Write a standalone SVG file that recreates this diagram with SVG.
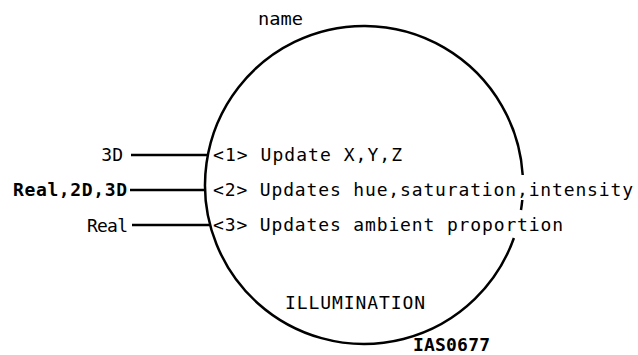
<svg xmlns="http://www.w3.org/2000/svg" width="638" height="355" viewBox="0 0 638 355">
<style>
.t{font-family:"DejaVu Sans Mono","Liberation Mono",monospace;font-size:18px;fill:#000}
.b{font-weight:bold}
.ln{stroke:#000;stroke-width:2.5;fill:none}
</style>
<rect width="638" height="355" fill="#fff"/>
<g id="illumination">
<path class="ln" d="M 522.7 175 A 159 159 0 1 0 513.9 238"/>
<path class="ln" d="M 522.3 200 A 159 159 0 0 1 521 210"/>
<text class="t" x="258" y="25" textLength="45" lengthAdjust="spacingAndGlyphs">name</text>
<text class="t" x="213" y="161" textLength="189" lengthAdjust="spacing">&lt;1&gt; Update X,Y,Z</text>
<text class="t" x="213" y="196" textLength="420" lengthAdjust="spacing">&lt;2&gt; Updates hue,saturation,intensity</text>
<text class="t" x="213" y="231" textLength="350" lengthAdjust="spacing">&lt;3&gt; Updates ambient proportion</text>
<text class="t" x="285" y="309" textLength="140" lengthAdjust="spacing">ILLUMINATION</text>
<text class="t b" x="413" y="351" font-size="12" textLength="77" lengthAdjust="spacing">IAS0677</text>
</g>
<g id="in-3d">
<text class="t" x="123" y="161" text-anchor="end">3D</text>
</g>
<g id="in-real2d3d">
<text class="t b" x="127" y="196" text-anchor="end" textLength="114" lengthAdjust="spacing">Real,2D,3D</text>
</g>
<g id="in-real">
<text class="t" x="128" y="232" text-anchor="end" textLength="41" lengthAdjust="spacing">Real</text>
</g>
<g id="connectors">
<line class="ln" x1="131" y1="155" x2="208" y2="155"/>
<line class="ln" x1="130" y1="190" x2="204" y2="190"/>
<line class="ln" x1="132" y1="225" x2="211" y2="225"/>
</g>
</svg>
